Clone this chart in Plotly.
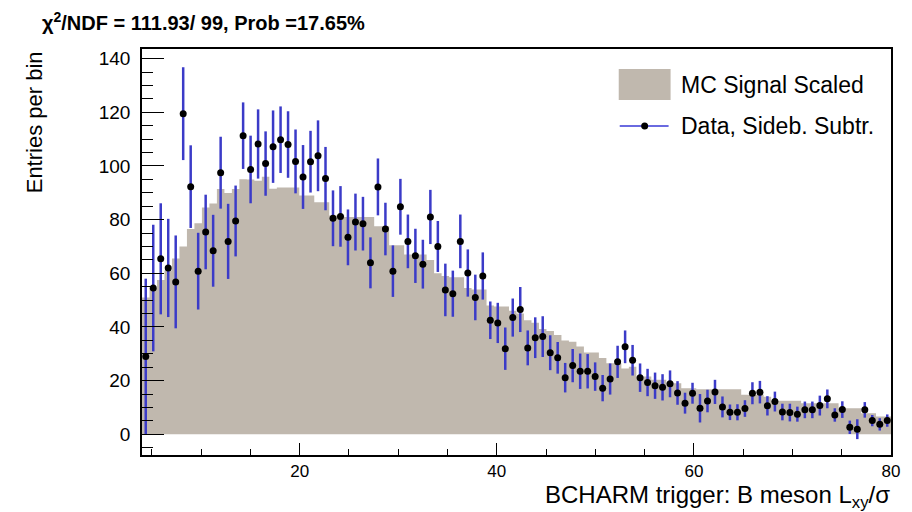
import plotly.graph_objects as go

# Binning: 100 bins of 0.76 between 4 and 80
x_lo = 4.0
bin_w = 0.76
n_bins = 100

# Sideband-subtracted data (entries per bin) and their uncertainties
data_vals = [
    29.0, 54.5, 65.4, 62.0, 56.8, 119.5, 92.3, 60.8, 75.4, 68.4,
    97.5, 71.9, 79.5, 111.3, 98.7, 108.2, 100.9, 107.2, 109.8, 108.0,
    101.7, 95.9, 101.6, 103.8, 95.3, 80.5, 81.2, 73.4, 79.1, 78.5,
    63.9, 92.2, 76.5, 60.8, 84.8, 71.9, 66.5, 63.4, 81.0, 70.0,
    53.8, 52.4, 71.9, 60.1, 51.0, 59.0, 42.5, 41.5, 31.9, 43.5,
    46.5, 32.2, 36.0, 36.4, 30.4, 28.5, 21.1, 25.6, 23.5, 23.5,
    21.5, 17.2, 20.6, 27.0, 32.6, 27.6, 21.1, 19.3, 18.1, 17.5,
    18.8, 15.4, 11.6, 15.3, 9.7, 12.4, 15.8, 10.2, 8.2, 8.2,
    9.6, 15.3, 15.7, 10.6, 12.2, 8.3, 8.1, 7.5, 9.1, 9.1,
    10.7, 13.2, 7.2, 9.2, 2.6, 1.9, 9.1, 5.1, 3.7, 5.1,
]
data_errs = [
    29.0, 23.6, 20.7, 18.3, 17.3, 17.3, 15.4, 14.3, 13.9, 13.4,
    13.4, 14.0, 13.2, 12.4, 12.6, 12.9, 12.0, 13.5, 12.4, 12.4,
    11.9, 11.9, 11.5, 13.2, 11.8, 10.4, 11.3, 10.4, 10.6, 10.0,
    9.5, 10.6, 9.8, 9.6, 10.4, 10.0, 10.1, 9.1, 10.1, 9.5,
    9.8, 8.6, 10.0, 8.8, 8.5, 8.8, 7.0, 7.5, 7.9, 7.1,
    8.4, 6.5, 7.6, 7.6, 6.5, 5.9, 5.5, 6.2, 6.6, 6.4,
    5.3, 4.9, 5.8, 6.0, 6.1, 5.7, 5.3, 5.1, 4.9, 4.9,
    5.0, 4.4, 3.9, 3.9, 5.3, 4.2, 4.5, 3.9, 2.9, 3.0,
    3.1, 4.1, 4.2, 3.6, 3.7, 3.1, 3.3, 2.8, 3.1, 3.1,
    3.7, 3.5, 2.5, 3.1, 2.5, 3.7, 2.9, 2.1, 2.3, 2.3,
]

# Scaled MC signal histogram
mc_vals = [
    51.0, 54.5, 57.5, 61.0, 65.5, 70.0, 76.5, 78.7, 84.5, 86.0,
    91.4, 89.9, 91.4, 95.1, 95.0, 94.5, 96.0, 91.5, 92.0, 92.0,
    92.0, 89.0, 89.0, 86.5, 86.5, 81.5, 81.5, 81.0, 81.0, 81.0,
    81.0, 77.5, 77.5, 70.5, 70.5, 67.0, 67.0, 67.0, 65.0, 60.0,
    59.0, 58.5, 58.5, 54.5, 54.0, 54.0, 48.0, 47.6, 47.6, 46.0,
    45.0, 42.5, 41.6, 39.2, 38.5, 37.0, 35.0, 34.5, 32.7, 30.5,
    30.5, 28.4, 26.5, 26.5, 24.5, 25.2, 21.5, 21.5, 20.3, 20.3,
    19.0, 19.0, 17.2, 17.2, 16.8, 16.8, 16.8, 16.8, 16.8, 16.8,
    14.7, 14.7, 14.7, 14.0, 12.5, 12.5, 12.5, 12.5, 11.6, 11.6,
    11.6, 11.6, 11.6, 9.7, 9.7, 9.7, 7.8, 7.8, 6.6, 6.6,
]

edges = [x_lo + bin_w * i for i in range(n_bins + 1)]
centers = [x_lo + bin_w * (i + 0.5) for i in range(n_bins)]

title_text = "χ<sup>2</sup>/NDF = 111.93/ 99, Prob =17.65%"
x_title = "BCHARM trigger: B meson L<sub>xy</sub>/σ"
y_title = "Entries per bin"
mc_label = "MC Signal Scaled"
data_label = "Data, Sideb. Subtr."

FONT = "Liberation Sans, Arial, Helvetica, sans-serif"
MC_COLOR = "#c0b8ae"
ERR_COLOR = "#3b3bc8"

W, H = 912, 512
ML, MR, MT, MB = 142, 19, 49, 57
PW = W - ML - MR
PH = H - MT - MB


def px(xp):
    return (xp - ML) / PW


def py(yp):
    return (H - MB - yp) / PH


fig = go.Figure()

# MC histogram as a filled step outline
fig.add_trace(go.Scatter(
    x=edges,
    y=mc_vals + [mc_vals[-1]],
    mode="lines",
    line=dict(shape="hv", width=0, color=MC_COLOR),
    fill="tozeroy",
    fillcolor=MC_COLOR,
    hoverinfo="skip",
    showlegend=False,
))

# Data points with vertical error bars
fig.add_trace(go.Scatter(
    x=centers,
    y=data_vals,
    mode="markers",
    marker=dict(color="black", size=7, symbol="circle"),
    error_y=dict(type="data", array=data_errs, color=ERR_COLOR,
                 thickness=2.5, width=0),
    showlegend=False,
))

fig.update_xaxes(
    range=[4, 80],
    showline=True, linecolor="black", linewidth=1.5, mirror=True,
    ticks="inside", ticklen=12, tickwidth=1.2, tickcolor="black",
    tickmode="array", tickvals=[20, 40, 60, 80], ticktext=["20", "40", "60", "80"],
    minor=dict(ticks="inside", ticklen=6, tickwidth=1.2, tickcolor="black",
               tickmode="array", tickvals=[5, 10, 15, 25, 30, 35, 45, 50, 55, 65, 70, 75]),
    showgrid=False, zeroline=False,
    tickfont=dict(family=FONT, size=17, color="black"),
    ticklabelstandoff=0,
)
fig.update_yaxes(
    range=[-7.72, 143.6],
    showline=True, linecolor="black", linewidth=1.5, mirror=True,
    ticks="inside", ticklen=22, tickwidth=1.2, tickcolor="black",
    tickmode="array", tickvals=[0, 20, 40, 60, 80, 100, 120, 140],
    minor=dict(ticks="inside", ticklen=11, tickwidth=1.2, tickcolor="black",
               tickmode="array",
               tickvals=[v for v in range(-5, 145, 5) if v % 20 != 0]),
    showgrid=False, zeroline=False,
    tickfont=dict(family=FONT, size=19, color="black"),
    ticklabelstandoff=6,
)

annotations = [
    dict(text=title_text, xref="paper", yref="paper", x=px(40), y=py(22),
         xanchor="left", yanchor="middle", showarrow=False,
         font=dict(family=FONT, size=20, color="black", weight="bold")),
    dict(text=x_title, xref="paper", yref="paper", x=px(894), y=py(496),
         xanchor="right", yanchor="middle", showarrow=False,
         font=dict(family=FONT, size=24, color="black")),
    dict(text=y_title, xref="paper", yref="paper", x=px(35), y=py(122),
         xanchor="center", yanchor="middle", showarrow=False, textangle=-90,
         font=dict(family=FONT, size=22, color="black")),
    dict(text=mc_label, xref="paper", yref="paper", x=px(680), y=py(84.5),
         xanchor="left", yanchor="middle", showarrow=False,
         font=dict(family=FONT, size=23, color="black")),
    dict(text=data_label, xref="paper", yref="paper", x=px(680), y=py(126),
         xanchor="left", yanchor="middle", showarrow=False,
         font=dict(family=FONT, size=23, color="black")),
]

shapes = [
    # legend fill box
    dict(type="rect", xref="paper", yref="paper",
         x0=px(620), x1=px(672), y0=py(100), y1=py(69),
         fillcolor=MC_COLOR, line=dict(width=0)),
    # legend line for data
    dict(type="line", xref="paper", yref="paper",
         x0=px(621), x1=px(670), y0=py(126), y1=py(126),
         line=dict(color="#6a6ae0", width=2)),
    # legend marker
    dict(type="circle", xref="paper", yref="paper",
         x0=px(642.5), x1=px(649.5), y0=py(129.5), y1=py(122.5),
         fillcolor="black", line=dict(width=0)),
]

fig.update_layout(
    width=W, height=H,
    margin=dict(l=ML, r=MR, t=MT, b=MB),
    paper_bgcolor="white", plot_bgcolor="white",
    annotations=annotations,
    shapes=shapes,
    showlegend=False,
)

fig.write_html("out.html")
